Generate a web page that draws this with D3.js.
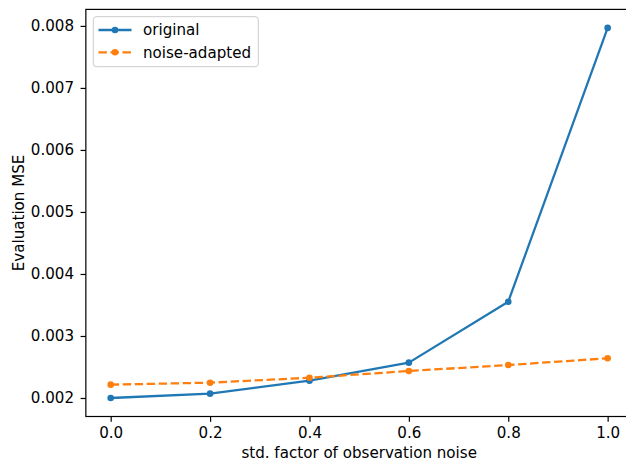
<!DOCTYPE html>
<html><head><meta charset="utf-8">
<script src="https://cdn.jsdelivr.net/npm/d3@7"></script>
<style>body{margin:0;background:#fff}svg{display:block}text{font-family:"DejaVu Sans",sans-serif;fill:#000}</style>
</head><body>
<svg id="c" width="626" height="462"></svg>
<script>
const xValues = [0.0, 0.2, 0.4, 0.6, 0.8, 1.0];
const original = [0.00200, 0.00207, 0.00228, 0.00257, 0.003553, 0.007968];
const noiseAdapted = [0.002215, 0.002247, 0.002327, 0.002435, 0.002532, 0.00264];
const seriesNames = ["original", "noise-adapted"];
const xTicks = [0.0, 0.2, 0.4, 0.6, 0.8, 1.0];
const yTicks = [0.002, 0.003, 0.004, 0.005, 0.006, 0.007, 0.008];

const svg = d3.select("#c");
const L = 85.85, R = 632.5, T = 9.4, B = 416.5;
const x = d3.scaleLinear().domain([-0.05, 1.05]).range([L, R]);
const allY = original.concat(noiseAdapted);
const ymin = d3.min(allY), ymax = d3.max(allY), pad = (ymax - ymin) * 0.05;
const y = d3.scaleLinear().domain([ymin - pad, ymax + pad]).range([B, T]);

const fs = 15.1;
const lw = 2.27;
// axes
const xa = svg.append("g").attr("transform", `translate(0,${B})`)
  .call(d3.axisBottom(x).tickValues(xTicks).tickFormat(d3.format(".1f")).tickSize(5.3).tickPadding(5));
const ya = svg.append("g").attr("transform", `translate(${L},0)`)
  .call(d3.axisLeft(y).tickValues(yTicks).tickFormat(d3.format(".3f")).tickSize(5.3).tickPadding(6.5));
[xa, ya].forEach(a => {
  a.select(".domain").remove();
  a.selectAll("line").attr("stroke", "#000").attr("stroke-width", 1.2);
  a.selectAll("text").attr("font-size", fs).attr("font-family", "DejaVu Sans");
});
// spines
svg.append("rect").attr("x", L).attr("y", T).attr("width", R - L).attr("height", B - T)
  .attr("fill", "none").attr("stroke", "#000").attr("stroke-width", 1.2);

const series = [
  {name: seriesNames[0], vals: original, color: "#1f77b4", dash: null},
  {name: seriesNames[1], vals: noiseAdapted, color: "#ff7f0e", dash: "8.4,3.6"}
];
const line = d3.line().x((d, i) => x(xValues[i])).y(d => y(d));
series.forEach(s => {
  svg.append("path").datum(s.vals).attr("d", line).attr("fill", "none")
    .attr("stroke", s.color).attr("stroke-width", lw).attr("stroke-dasharray", s.dash)
    .attr("stroke-linejoin", "round");
  svg.selectAll(null).data(s.vals).enter().append("circle")
    .attr("cx", (d, i) => x(xValues[i])).attr("cy", d => y(d)).attr("r", 3.3).attr("fill", s.color);
});

// labels
svg.append("text").attr("x", (L + R) / 2).attr("y", 457.5).attr("text-anchor", "middle")
  .attr("font-size", fs).text("std. factor of observation noise");
svg.append("text").attr("transform", `translate(23.5,${(T + B) / 2}) rotate(-90)`).attr("text-anchor", "middle")
  .attr("font-size", fs).text("Evaluation MSE");

// legend
const lg = svg.append("g");
lg.append("rect").attr("x", 93.3).attr("y", 16.7).attr("width", 165).attr("height", 50)
  .attr("rx", 3).attr("fill", "#fff").attr("fill-opacity", 0.8).attr("stroke", "#cccccc").attr("stroke-width", 1);
series.forEach((s, i) => {
  const cy = 30 + i * 22.3;
  lg.append("line").attr("x1", 98.5).attr("x2", 131.5).attr("y1", cy).attr("y2", cy)
    .attr("stroke", s.color).attr("stroke-width", lw).attr("stroke-dasharray", s.dash);
  lg.append("circle").attr("cx", 115).attr("cy", cy).attr("r", 3.3).attr("fill", s.color);
  lg.append("text").attr("x", 143).attr("y", cy + 5.3).attr("font-size", fs).text(s.name);
});
</script>
</body></html>
